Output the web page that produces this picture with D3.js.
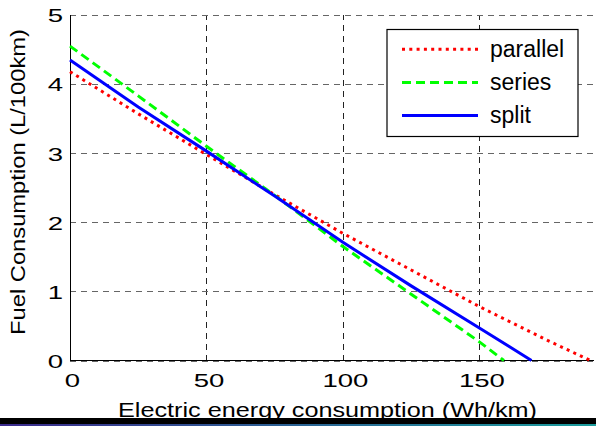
<!DOCTYPE html>
<html>
<head>
<meta charset="utf-8">
<script src="https://cdn.jsdelivr.net/npm/d3@7"></script>
<style>
  html, body { margin: 0; padding: 0; background: #fff; }
  svg { display: block; font-family: "Liberation Sans", Arial, sans-serif; }
</style>
</head>
<body>
<div id="chart"></div>
<script>
// Data
const xTicks = [0, 50, 100, 150];
const yTicks = [0, 1, 2, 3, 4, 5];

const parallelX = [0, 25, 50, 75, 100, 125, 150, 175, 190.7];
const parallelY = [4.18, 3.57, 2.98, 2.40, 1.84, 1.31, 0.78, 0.29, 0];

const seriesX = [0, 25, 50, 75, 100, 125, 150, 159];
const seriesY = [4.55, 3.83, 3.10, 2.39, 1.65, 0.96, 0.27, 0];

const splitX = [0, 25, 50, 75, 100, 125, 150, 169.1];
const splitY = [4.35, 3.67, 3.03, 2.38, 1.71, 1.08, 0.47, 0];

const legendNames = ["parallel", "series", "split"];

const width = 596, height = 426;
const plotLeft = 70, plotRight = 594, plotTop = 15, plotBottom = 360.5;

const svg = d3.select("#chart").append("svg")
  .attr("width", width)
  .attr("height", height);

const x = d3.scaleLinear().domain([0, 192]).range([plotLeft, plotRight]);
const y = d3.scaleLinear().domain([0, 5]).range([plotBottom, plotTop]);

// Grid (dashed)
svg.append("g")
  .attr("transform", `translate(0,${plotBottom})`)
  .call(d3.axisBottom(x).tickValues(xTicks).tickSize(-(plotBottom - plotTop)).tickFormat(""))
  .call(g => g.select(".domain").remove())
  .selectAll("line")
  .attr("stroke", "#222")
  .attr("stroke-dasharray", "6,5")
  .attr("shape-rendering", "crispEdges");

svg.append("g")
  .attr("transform", `translate(${plotLeft},0)`)
  .call(d3.axisLeft(y).tickValues(yTicks).tickSize(-(plotRight - plotLeft)).tickFormat(""))
  .call(g => g.select(".domain").remove())
  .selectAll("line")
  .attr("stroke", "#666")
  .attr("stroke-dasharray", "6,5")
  .attr("shape-rendering", "crispEdges");

// Axis lines
svg.append("line")
  .attr("x1", plotLeft).attr("x2", plotLeft).attr("y1", plotTop).attr("y2", plotBottom)
  .attr("stroke", "#000").attr("shape-rendering", "crispEdges");
svg.append("line")
  .attr("x1", plotLeft).attr("x2", plotRight).attr("y1", plotBottom).attr("y2", plotBottom)
  .attr("stroke", "#000").attr("shape-rendering", "crispEdges");

// Tick labels (wide glyphs like the original)
const stretch = 1.45;
const xAxis = svg.append("g")
  .attr("transform", `translate(0,${plotBottom})`)
  .call(d3.axisBottom(x).tickValues(xTicks).tickSize(0).tickPadding(0).tickFormat(d3.format("d")));
xAxis.select(".domain").remove();
xAxis.selectAll("text")
  .attr("font-size", 19)
  .attr("font-family", "Liberation Sans, Arial, sans-serif")
  .attr("fill", "#000")
  .attr("dy", null)
  .attr("y", 26.5)
  .attr("transform", `translate(2,0) scale(${stretch},1)`);

const yAxis = svg.append("g")
  .attr("transform", `translate(${plotLeft},0)`)
  .call(d3.axisLeft(y).tickValues(yTicks).tickSize(0).tickPadding(0).tickFormat(d3.format("d")));
yAxis.select(".domain").remove();
yAxis.selectAll("text")
  .attr("font-size", 19)
  .attr("font-family", "Liberation Sans, Arial, sans-serif")
  .attr("fill", "#000")
  .attr("x", -7 / stretch)
  .attr("dy", "0.36em")
  .attr("transform", `scale(${stretch},1)`);

// Lines
const line = d3.line().x(d => x(d[0])).y(d => y(d[1]));
const series = [
  { name: "parallel", xs: parallelX, ys: parallelY, color: "#ff0000", dash: "3,4.3", width: 3 },
  { name: "series", xs: seriesX, ys: seriesY, color: "#00ff00", dash: "9,5", width: 3 },
  { name: "split", xs: splitX, ys: splitY, color: "#0000ff", dash: null, width: 3 }
];

series.forEach(s => {
  svg.append("path")
    .datum(s.xs.map((v, i) => [v, s.ys[i]]))
    .attr("fill", "none")
    .attr("stroke", s.color)
    .attr("stroke-width", s.width)
    .attr("stroke-dasharray", s.dash)
    .attr("d", line);
});

// Legend
const legend = svg.append("g");
legend.append("rect")
  .attr("x", 387).attr("y", 29.5)
  .attr("width", 191).attr("height", 107)
  .attr("fill", "#fff")
  .attr("stroke", "#000")
  .attr("stroke-width", 1.2);

const rowY = [49.3, 82.5, 115.5];
series.forEach((s, i) => {
  legend.append("line")
    .attr("x1", 402).attr("x2", 478)
    .attr("y1", rowY[i]).attr("y2", rowY[i])
    .attr("stroke", s.color)
    .attr("stroke-width", s.width)
    .attr("stroke-dasharray", s.dash);
  legend.append("text")
    .attr("x", 490)
    .attr("y", rowY[i] + 7.5)
    .attr("font-size", 23)
    .attr("fill", "#000")
    .text(legendNames[i]);
});

// Axis titles
svg.append("text")
  .attr("x", 118)
  .attr("y", 417)
  .attr("font-size", 21)
  .attr("textLength", 419)
  .attr("lengthAdjust", "spacingAndGlyphs")
  .attr("fill", "#000")
  .text("Electric energy consumption (Wh/km)");

svg.append("text")
  .attr("transform", "translate(25,335) rotate(-90)")
  .attr("font-size", 21)
  .attr("textLength", 306)
  .attr("lengthAdjust", "spacingAndGlyphs")
  .attr("fill", "#000")
  .text("Fuel Consumption (L/100km)");

// Dark strip at the bottom edge of the original image
const grad = svg.append("defs").append("linearGradient")
  .attr("id", "edge").attr("x1", "0%").attr("x2", "100%");
grad.append("stop").attr("offset", "0%").attr("stop-color", "#3b2a8c");
grad.append("stop").attr("offset", "100%").attr("stop-color", "#1a9c9c");

svg.append("rect")
  .attr("x", 0).attr("y", 418).attr("width", width).attr("height", 6)
  .attr("fill", "#000");
svg.append("rect")
  .attr("x", 0).attr("y", 424).attr("width", width).attr("height", 2)
  .attr("fill", "url(#edge)");
</script>
</body>
</html>
